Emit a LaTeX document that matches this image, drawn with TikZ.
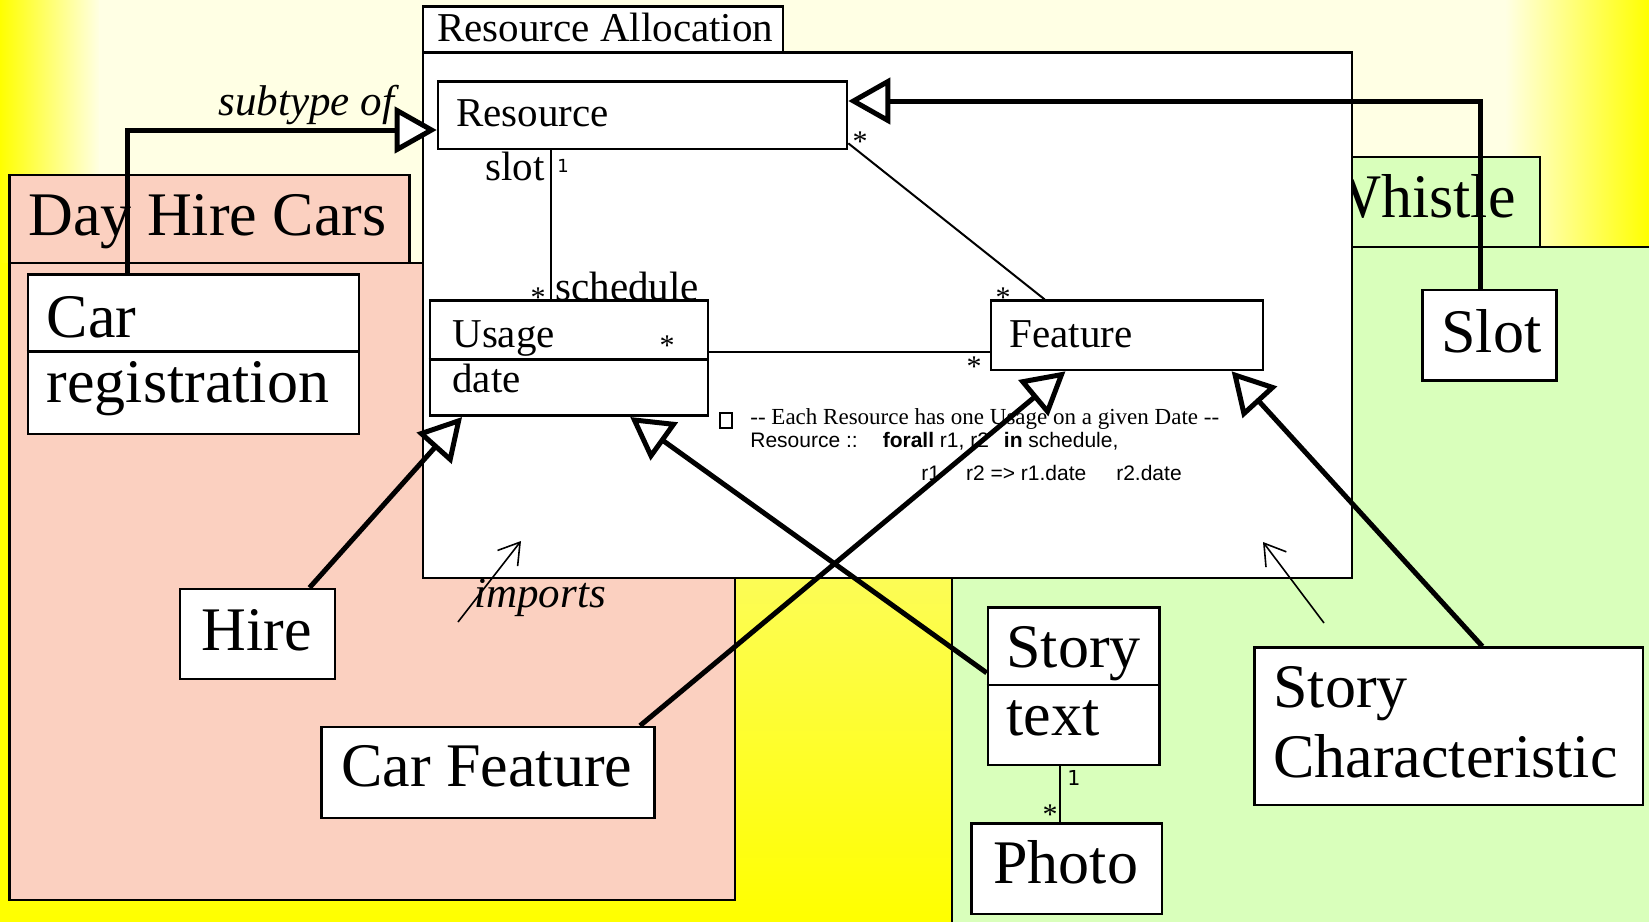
\documentclass[tikz,border=0pt]{standalone}
\usepackage{fontspec}
\setmainfont{Liberation Serif}
\setsansfont{Liberation Sans}
\newfontfamily\digitfont{DejaVu Sans}
\usetikzlibrary{arrows.meta,fit,calc}
\definecolor{bgy}{RGB}{255,255,0}
\definecolor{bgpale}{RGB}{255,255,228}
\definecolor{bglow}{RGB}{252,252,95}
\definecolor{pinkpkg}{RGB}{251,208,192}
\definecolor{greenpkg}{RGB}{217,255,187}
\begin{document}
\begin{tikzpicture}[x=0.5pt,y=-0.5pt,
  pkgbox/.style={draw, line width=1.3pt, inner sep=0pt},
  cls/.style={draw, fill=white, line width=1.3pt, inner sep=0pt},
  divider/.style={line width=1.3pt},
  big/.style={font=\fontsize{31}{31}\selectfont, inner sep=0pt, anchor=base west},
  mid/.style={font=\fontsize{20.5}{20.5}\selectfont, inner sep=0pt, anchor=base west},
  ital/.style={font=\itshape\fontsize{21.5}{21.5}\selectfont, inner sep=0pt, anchor=base west},
  star/.style={font=\fontsize{15}{15}\selectfont, inner sep=0pt, anchor=base},
  mult/.style={font=\digitfont\fontsize{9}{9}\selectfont, inner sep=0pt, anchor=base west},
  note/.style={inner sep=0pt, anchor=base west},
  gen/.style={line width=2.5pt, -{Triangle[fill=white, length=21pt, width=23pt]}},
  assoc/.style={line width=1pt},
  dep/.style={line width=0.8pt, -{Straight Barb[angle=64:12pt]}}
]
\useasboundingbox (0,0) rectangle (1649,921);

% background
\shade[left color=bgy, right color=bgpale] (0,0) rectangle (100,560);
\fill[bgpale] (99,0) rectangle (1506,560);
\shade[left color=bgpale, right color=bgy] (1505,0) rectangle (1649,560);
\shade[top color=bglow, bottom color=bgy] (0,540) rectangle (1649,921);
\fill[bgy] (0,263) rectangle (10,921);

% package Day Hire Cars
\node[pkgbox, fill=pinkpkg, fit={(9.6,175) (409.5,263)}] (dhcTab) {};
\node[pkgbox, fill=pinkpkg, fit={(9.6,263) (735,900)}] (dhcBody) {};
\node[big] (dhcLabel) at (28,235) {Day Hire Cars};

% package Whistle
\node[pkgbox, fill=greenpkg, fit={(1290,157) (1540,247)}] (whTab) {};
\node[pkgbox, fill=greenpkg, fit={(952,247) (1665,935)}] (whBody) {};
\node[big, anchor=base east] (whLabel) at (1516,217) {Whistle};

% package Resource Allocation
\node[pkgbox, fill=white, fit={(423,6.7) (783,52.3)}] (raTab) {};
\node[pkgbox, fill=white, fit={(423,52.3) (1352,578)}] (raBody) {};
\node[mid] (raLabel) at (437,41) {Resource Allocation};

% classes in Resource Allocation
\node[cls, fit={(438,81.7) (847,149)}] (resource) {};
\node[mid] (resourceTxt) at (456,126) {Resource};
\node[cls, fit={(430,300.7) (708,415.7)}] (usage) {};
\draw[divider] ($(usage.north west)!0.51!(usage.south west)$) -- ($(usage.north east)!0.51!(usage.south east)$);
\node[mid] (usageTxt) at (452,347) {Usage};
\node[mid] (usageAttr) at (452,392) {date};
\node[cls, fit={(991,300.7) (1263,370)}] (feature) {};
\node[mid] (featureTxt) at (1009,347) {Feature};

% constraint
\node[draw, line width=1pt, inner sep=0pt, fit={(720,413) (732,428)}] (cbox) {};
\node[note, font=\fontsize{11.5}{11.5}\selectfont] (c1) at (750,424.5) {{-}{-} Each Resource has one Usage on a given Date {-}{-}};
\node[note, font=\sffamily\fontsize{10.5}{10.5}\selectfont] (c2) at (750,447.5) {Resource ::\hspace{12.5pt}\textbf{forall} r1, r2\hspace{7.5pt}\textbf{in} schedule,};
\node[note, font=\sffamily\fontsize{10.5}{10.5}\selectfont] (c3) at (921,480) {r1\hspace{13pt}r2 => r1.date\hspace{15pt}r2.date};

% classes in Day Hire Cars
\node[cls, fit={(27.8,274.4) (358.9,434)}] (car) {};
\draw[divider] ($(car.north west)!0.485!(car.south west)$) -- ($(car.north east)!0.485!(car.south east)$);
\node[big] (carTxt) at (46.4,337) {Car};
\node[big] (carAttr) at (46.4,402) {registration};
\node[cls, fit={(180,589) (335,679)}] (hire) {};
\node[big] (hireTxt) at (201,650) {Hire};
\node[cls, fit={(321.5,727) (654.5,818)}] (carfeat) {};
\node[big] (carfeatTxt) at (341,786) {Car Feature};

% classes in Whistle
\node[cls, fit={(1422.7,290) (1556.7,380.7)}] (slot) {};
\node[big] (slotTxt) at (1441,352) {Slot};
\node[cls, fit={(988,607.3) (1159.4,765)}] (story) {};
\draw[divider] ($(story.north west)!0.493!(story.south west)$) -- ($(story.north east)!0.493!(story.south east)$);
\node[big] (storyTxt) at (1006,667) {Story};
\node[big] (storyAttr) at (1006,735) {text};
\node[cls, fit={(971.7,823.3) (1161.8,914)}] (photo) {};
\node[big] (photoTxt) at (993,883) {Photo};
\node[cls, fit={(1254.5,647.7) (1643,805)}] (storychar) {};
\node[big] (storycharTxt1) at (1273,707) {Story};
\node[big] (storycharTxt2) at (1273,777) {Characteristic};

% associations
\coordinate (rs) at ($(resource.south west)!0.2775!(resource.south east)$);
\draw[assoc] (rs) -- (rs |- usage.north);
\draw[assoc] ($(resource.north east)!0.9!(resource.south east)$) -- ($(feature.north west)!0.2!(feature.north east)$);
\coordinate (fw) at ($(feature.north west)!0.73!(feature.south west)$);
\draw[assoc] (fw -| usage.east) -- (fw);
\coordinate (sp) at ($(story.south west)!0.423!(story.south east)$);
\draw[assoc] (sp) -- (sp |- photo.north);

% association labels
\node[mid, anchor=base east] (slotLbl) at (545,180) {slot};
\node[mult] (m1) at (557,172) {1};
\node[star] (s2) at (538,307) {*};
\node[mid] (schedLbl) at (555,300) {schedule};
\node[star] (s1) at (860,151) {*};
\node[star] (s3) at (1003,307) {*};
\node[star] (s4) at (667,355) {*};
\node[star] (s5) at (974,376) {*};
\node[mult, font=\digitfont\fontsize{10.3}{10.3}\selectfont] (m2) at (1067,785) {1};
\node[star] (s6) at (1050,824) {*};

% generalizations
\coordinate (bendA) at (127,130);
\draw[gen] (car.north -| bendA) -- (bendA) -- (bendA -| resource.west);
\node[ital] (subtypeLbl) at (218,115) {subtype of};
\coordinate (bendB) at (1480,101);
\draw[gen] (slot.north -| bendB) -- (bendB) -- (bendB -| resource.east);
\draw[gen] ($(hire.north west)!0.83!(hire.north east)$) -- ($(usage.south west)!0.119!(usage.south east)$);
\draw[gen] ($(story.north west)!0.417!(story.south west)$) -- ($(usage.south west)!0.718!(usage.south east)$);
\draw[gen] ($(carfeat.north west)!0.953!(carfeat.north east)$) -- ($(feature.south west)!0.276!(feature.south east)$);
\draw[gen] ($(storychar.north west)!0.586!(storychar.north east)$) -- ($(feature.south west)!0.881!(feature.south east)$);

% imports
\coordinate (imp1s) at (458,622);
\coordinate (imp1e) at (521,541);
\draw[dep] (imp1s) -- (imp1e);
\node[ital] (importsLbl) at (474,607) {imports};
\coordinate (imp2s) at (1324,623);
\coordinate (imp2e) at (1263,542);
\draw[dep] (imp2s) -- (imp2e);
\end{tikzpicture}
\end{document}
